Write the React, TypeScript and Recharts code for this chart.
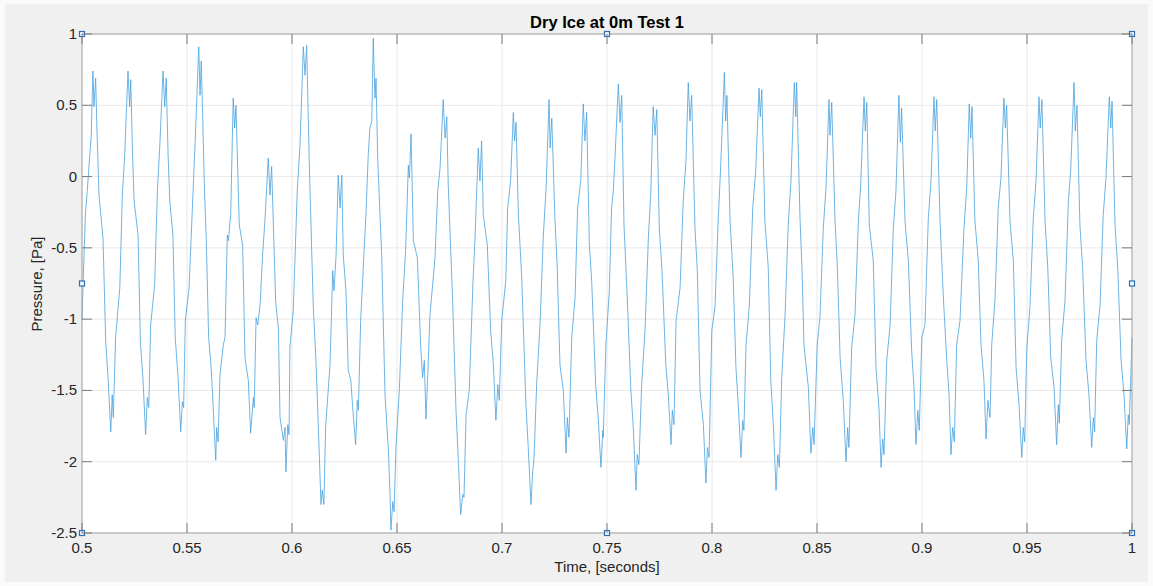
import {
  LineChart,
  Line,
  XAxis,
  YAxis,
  CartesianGrid,
  ReferenceDot,
} from "recharts";

const colors = {
  page: "#fafafa",
  frame: "#f0f0f0",
  plot: "#ffffff",
  grid: "#e8e8e8",
  axis: "#a3a3a3",
  tick: "#7a7a7a",
  text: "#262626",
  trace: "#47a1de",
  handle: "#2c6fb3",
};

const font = "'Liberation Sans', Arial, Helvetica, sans-serif";

const title = "Dry Ice at 0m Test 1";
const xLabel = "Time, [seconds]";
const yLabel = "Pressure, [Pa]";

const timeTicks = [0.5, 0.55, 0.6, 0.65, 0.7, 0.75, 0.8, 0.85, 0.9, 0.95, 1];
const pressureTicks = [-2.5, -2, -1.5, -1, -0.5, 0, 0.5, 1];

// selection handles around the axes box
const handleTimes = [0.5, 0.75, 1];
const handlePressures = [1, -0.75, -2.5];

// [time (s), pressure (Pa)]
const trace: [number, number][] = [
  [0.5, -1.01], [0.5005, -0.76], [0.5016, -0.27], [0.5025, -0.1], [0.5037, 0.15], [0.5044, 0.29],
  [0.5052, 0.74], [0.5057, 0.49], [0.5065, 0.69], [0.5071, 0.34], [0.5081, -0.13], [0.51, -0.43],
  [0.5113, -1.16], [0.5124, -1.41], [0.5137, -1.79], [0.5144, -1.53], [0.5149, -1.69],

  [0.516, -1.13], [0.518, -0.78], [0.5192, -0.13], [0.5203, 0.14], [0.5219, 0.74], [0.5227, 0.49],
  [0.5232, 0.68], [0.524, 0.2], [0.5248, -0.17], [0.5267, -0.41], [0.5278, -1.16], [0.529, -1.41],
  [0.5303, -1.81], [0.5311, -1.55], [0.5318, -1.62],

  [0.5327, -1.04], [0.5346, -0.76], [0.5359, -0.1], [0.537, 0.2], [0.5386, 0.74], [0.5394, 0.49],
  [0.5401, 0.69], [0.541, 0.15], [0.5418, -0.17], [0.5433, -0.41], [0.5444, -1.13], [0.5457, -1.4],
  [0.547, -1.79], [0.5478, -1.58], [0.5484, -1.62],

  [0.5492, -1.01], [0.551, -0.78], [0.5529, -0.1], [0.554, 0.29], [0.5556, 0.91], [0.5562, 0.57],
  [0.5568, 0.81], [0.5576, 0.34], [0.5584, -0.13], [0.5592, -0.45], [0.5603, -1.13], [0.5613, -1.3],
  [0.5622, -1.53], [0.5629, -1.76], [0.5637, -1.99], [0.5641, -1.76], [0.5648, -1.86],

  [0.5657, -1.39], [0.5673, -1.18], [0.5681, -1.13], [0.5692, -0.41], [0.5697, -0.45], [0.5708, -0.27],
  [0.572, 0.55], [0.5727, 0.34], [0.5733, 0.5], [0.5749, -0.34], [0.5765, -0.48], [0.5776, -1.27],
  [0.5792, -1.43], [0.5803, -1.8], [0.5816, -1.55], [0.582, -1.62],

  [0.5829, -0.99], [0.5837, -1.04], [0.5848, -0.9], [0.586, -0.55], [0.5871, -0.31], [0.5887, 0.13],
  [0.5895, -0.13], [0.5903, 0.07], [0.5922, -0.87], [0.5935, -1.06], [0.5943, -1.69], [0.5959, -1.85],
  [0.5967, -1.76], [0.5971, -2.07], [0.598, -1.74], [0.5986, -1.81],

  [0.599, -1.2], [0.6006, -0.94], [0.6025, -0.1], [0.6038, 0.22], [0.6054, 0.91], [0.6062, 0.71],
  [0.607, 0.92], [0.6082, 0.11], [0.6101, -0.9], [0.6114, -1.29], [0.6125, -1.74], [0.6138, -2.3],
  [0.6144, -2.2], [0.6152, -2.3],

  [0.616, -1.76], [0.6181, -1.32], [0.6194, -0.66], [0.62, -0.8], [0.621, -0.55], [0.622, 0.01],
  [0.6229, -0.22], [0.6237, 0.01], [0.6244, -0.55], [0.6257, -0.8], [0.6268, -1.36], [0.628, -1.43],
  [0.6289, -1.62], [0.6303, -1.88], [0.6311, -1.57], [0.6316, -1.64],

  [0.6327, -1.01], [0.6344, -0.5], [0.6352, -0.27], [0.6363, 0.15], [0.6371, 0.34], [0.638, 0.39],
  [0.6387, 0.97], [0.6395, 0.55], [0.64, 0.69], [0.6408, 0.13], [0.6427, -0.55], [0.6443, -1.53],
  [0.6459, -1.92], [0.6467, -2.23], [0.6471, -2.48], [0.648, -2.28], [0.6486, -2.35],

  [0.6495, -1.9], [0.6511, -1.5], [0.6527, -0.87], [0.6541, -0.52], [0.6554, 0.08], [0.6559, -0.01],
  [0.6567, 0.3], [0.6578, -0.45], [0.6597, -0.57], [0.6613, -1.2], [0.6622, -1.41], [0.663, -1.29],
  [0.6638, -1.7], [0.6646, -1.41],

  [0.6657, -0.97], [0.6681, -0.57], [0.6694, -0.1], [0.6705, 0.06], [0.672, 0.54], [0.6729, 0.27],
  [0.6737, 0.42], [0.6744, -0.06], [0.6765, -0.87], [0.6781, -1.64], [0.6792, -1.99], [0.6803, -2.37],
  [0.6813, -2.23], [0.6819, -2.25],

  [0.6829, -1.67], [0.6844, -1.5], [0.6862, -0.73], [0.6871, -0.45], [0.6887, 0.2], [0.6895, -0.03],
  [0.6903, 0.25], [0.6911, -0.27], [0.693, -0.48], [0.6946, -1.08], [0.6959, -1.32], [0.6971, -1.71],
  [0.698, -1.46], [0.6987, -1.57],

  [0.6999, -1.01], [0.7018, -0.73], [0.7027, -0.22], [0.7041, -0.03], [0.7054, 0.45], [0.706, 0.25],
  [0.7067, 0.38], [0.7078, -0.27], [0.7094, -0.71], [0.7114, -1.6], [0.7125, -1.9], [0.7138, -2.3],
  [0.7146, -2.07], [0.7152, -1.99],

  [0.7165, -1.46], [0.7181, -1.04], [0.7197, -0.41], [0.721, -0.08], [0.7224, 0.54], [0.7229, 0.2],
  [0.7237, 0.41], [0.7252, -0.29], [0.7263, -0.64], [0.7276, -1.32], [0.7292, -1.5], [0.7305, -1.94],
  [0.7311, -1.69], [0.7319, -1.83],

  [0.7332, -1.13], [0.7348, -0.85], [0.736, -0.22], [0.7375, -0.03], [0.7387, 0.51], [0.7395, 0.25],
  [0.7403, 0.45], [0.7416, -0.48], [0.7427, -0.73], [0.7446, -1.46], [0.7459, -1.71], [0.7471, -2.04],
  [0.748, -1.78], [0.7482, -1.83],

  [0.7495, -1.18], [0.7511, -0.8], [0.7522, -0.22], [0.753, -0.1], [0.7538, 0.13], [0.7554, 0.65],
  [0.7562, 0.38], [0.757, 0.57], [0.7581, -0.34], [0.7597, -0.87], [0.7613, -1.48], [0.7625, -1.76],
  [0.7638, -2.2], [0.7644, -1.95], [0.7652, -2.02],

  [0.7665, -1.46], [0.7681, -1.08], [0.7697, -0.43], [0.7708, -0.13], [0.772, 0.49], [0.7729, 0.29],
  [0.7737, 0.47], [0.7749, -0.36], [0.7762, -0.66], [0.778, -1.32], [0.7792, -1.53], [0.7805, -1.88],
  [0.7811, -1.64], [0.7819, -1.74],

  [0.7829, -1.01], [0.7848, -0.78], [0.7863, -0.17], [0.7876, 0.11], [0.7887, 0.66], [0.7895, 0.39],
  [0.7903, 0.57], [0.7919, -0.36], [0.793, -0.66], [0.7943, -1.5], [0.7959, -1.74], [0.7971, -2.15],
  [0.7978, -1.9], [0.7986, -1.97],

  [0.7999, -1.08], [0.8014, -0.92], [0.803, -0.29], [0.8041, 0.06], [0.8059, 0.73], [0.8065, 0.39],
  [0.8071, 0.57], [0.8086, -0.31], [0.8101, -0.71], [0.8114, -1.34], [0.8125, -1.6], [0.8138, -1.97],
  [0.8146, -1.71], [0.8152, -1.78],

  [0.8162, -1.18], [0.8178, -0.9], [0.8194, -0.22], [0.8208, 0.04], [0.8224, 0.62], [0.823, 0.42],
  [0.8237, 0.61], [0.8252, -0.31], [0.8268, -0.64], [0.828, -1.43], [0.8292, -1.74], [0.8305, -2.2],
  [0.8313, -1.95], [0.8321, -2.04],

  [0.8332, -1.41], [0.8348, -0.97], [0.8363, -0.34], [0.8376, -0.03], [0.8392, 0.66], [0.8399, 0.42],
  [0.8403, 0.66], [0.8419, -0.29], [0.8429, -0.66], [0.8438, -1.18], [0.8459, -1.48], [0.8471, -1.94],
  [0.848, -1.76], [0.8486, -1.88],

  [0.8501, -1.18], [0.8514, -0.99], [0.853, -0.36], [0.8543, -0.08], [0.8557, 0.54], [0.8562, 0.29],
  [0.857, 0.52], [0.8586, -0.31], [0.8597, -0.64], [0.861, -1.27], [0.8625, -1.57], [0.8638, -2.0],
  [0.8646, -1.76], [0.8652, -1.9],

  [0.8665, -1.2], [0.8681, -0.97], [0.8697, -0.31], [0.8708, -0.06], [0.8724, 0.56], [0.873, 0.32],
  [0.8737, 0.52], [0.8749, -0.34], [0.8768, -0.59], [0.8781, -1.34], [0.8795, -1.62], [0.8805, -2.04],
  [0.8813, -1.84], [0.8819, -1.95],

  [0.8832, -1.29], [0.8848, -1.04], [0.8863, -0.38], [0.8876, -0.1], [0.889, 0.57], [0.8897, 0.24],
  [0.8903, 0.48], [0.8919, -0.31], [0.8935, -0.59], [0.8951, -1.23], [0.8962, -1.48], [0.8971, -1.88],
  [0.898, -1.64], [0.8987, -1.78],

  [0.8999, -1.13], [0.9014, -1.04], [0.903, -0.29], [0.9043, -0.03], [0.9057, 0.56], [0.9063, 0.32],
  [0.907, 0.54], [0.9086, -0.31], [0.9101, -0.83], [0.9118, -1.29], [0.9129, -1.53], [0.9138, -1.95],
  [0.9146, -1.76], [0.9154, -1.86],

  [0.9165, -1.18], [0.9181, -1.01], [0.92, -0.36], [0.9213, -0.08], [0.9225, 0.51], [0.9232, 0.27],
  [0.9238, 0.49], [0.9252, -0.31], [0.9268, -0.59], [0.9281, -1.18], [0.9295, -1.43], [0.9305, -1.84],
  [0.9314, -1.57], [0.9324, -1.69],

  [0.9332, -1.18], [0.9348, -0.85], [0.9363, -0.22], [0.9376, -0.01], [0.939, 0.55], [0.9397, 0.34],
  [0.9403, 0.5], [0.9419, -0.31], [0.9435, -0.59], [0.9448, -1.34], [0.9462, -1.6], [0.9475, -1.97],
  [0.9482, -1.76], [0.9489, -1.86],

  [0.9499, -1.2], [0.9514, -0.92], [0.953, -0.29], [0.9543, -0.03], [0.9557, 0.56], [0.9563, 0.34],
  [0.9571, 0.54], [0.9586, -0.31], [0.9599, -0.64], [0.9613, -1.27], [0.9629, -1.48], [0.9641, -1.88],
  [0.9649, -1.6], [0.9654, -1.73],

  [0.9665, -1.15], [0.9681, -0.87], [0.9697, -0.17], [0.9708, 0.04], [0.9724, 0.66], [0.973, 0.32],
  [0.9738, 0.5], [0.9752, -0.34], [0.9765, -0.64], [0.9781, -1.29], [0.9795, -1.53], [0.9808, -1.9],
  [0.9816, -1.69], [0.9822, -1.79],

  [0.9832, -1.15], [0.9848, -0.9], [0.9863, -0.27], [0.9876, -0.01], [0.9892, 0.56], [0.9899, 0.34],
  [0.9905, 0.53], [0.9919, -0.34], [0.9932, -0.64], [0.9948, -1.29], [0.9962, -1.53], [0.9975, -1.91],
  [0.9982, -1.67], [0.9987, -1.74], [1.0, -1.13],
];

const data = trace.map(([t, p]) => ({ t, p }));

// axes box, set by the chart margins and axis sizes below
const box = { left: 82, top: 34, right: 1132, bottom: 533 };
const tickLen = 10;

type TickProps = { x?: number; y?: number; payload?: { value: number } };

// bottom tick: inward marks on bottom and top edge plus the label
function TimeTick({ x = 0, payload }: TickProps) {
  return (
    <g>
      <line x1={x} x2={x} y1={box.bottom} y2={box.bottom - tickLen} stroke={colors.tick} />
      <line x1={x} x2={x} y1={box.top} y2={box.top + tickLen} stroke={colors.tick} />
      <text
        x={x}
        y={553}
        textAnchor="middle"
        fill={colors.text}
        fontSize={15}
        fontFamily={font}
      >
        {String(payload?.value)}
      </text>
    </g>
  );
}

// left tick: inward marks on left and right edge plus the label
function PressureTick({ y = 0, payload }: TickProps) {
  return (
    <g>
      <line x1={box.left} x2={box.left + tickLen} y1={y} y2={y} stroke={colors.tick} />
      <line x1={box.right} x2={box.right - tickLen} y1={y} y2={y} stroke={colors.tick} />
      <text
        x={77}
        y={y + 5}
        textAnchor="end"
        fill={colors.text}
        fontSize={15}
        fontFamily={font}
      >
        {String(payload?.value)}
      </text>
    </g>
  );
}

function Handle(props: { cx?: number; cy?: number }) {
  const { cx = 0, cy = 0 } = props;
  return (
    <rect
      x={cx - 2.5}
      y={cy - 2.5}
      width={5}
      height={5}
      fill="#f4f8fc"
      stroke={colors.handle}
      strokeWidth={1.2}
    />
  );
}

export default function App() {
  const handles: { t: number; p: number }[] = [];
  handleTimes.forEach((t) =>
    handlePressures.forEach((p) => {
      if (!(t === 0.75 && p === -0.75)) handles.push({ t, p });
    })
  );

  return (
    <div
      style={{
        position: "absolute",
        left: 0,
        top: 0,
        width: 1153,
        height: 586,
        background: colors.page,
      }}
    >
      <div
        style={{
          position: "absolute",
          left: 5,
          top: 4,
          right: 5,
          bottom: 4,
          background: colors.frame,
        }}
      />
      <div style={{ position: "absolute", left: 0, top: 0 }}>
        <LineChart
          width={1153}
          height={586}
          data={data}
          margin={{ top: 4, right: 1, bottom: 13, left: 0 }}
        >
          <CartesianGrid stroke={colors.grid} fill={colors.plot} />
          <XAxis
            dataKey="t"
            type="number"
            domain={[0.5, 1]}
            ticks={timeTicks}
            interval={0}
            height={40}
            stroke={colors.axis}
            tickLine={false}
            tick={<TimeTick />}
          />
          <XAxis
            xAxisId="top"
            orientation="top"
            dataKey="t"
            type="number"
            domain={[0.5, 1]}
            ticks={timeTicks}
            height={30}
            stroke={colors.axis}
            tickLine={false}
            tick={false}
          />
          <YAxis
            type="number"
            domain={[-2.5, 1]}
            ticks={pressureTicks}
            interval={0}
            width={82}
            stroke={colors.axis}
            tickLine={false}
            tick={<PressureTick />}
          />
          <YAxis
            yAxisId="right"
            orientation="right"
            type="number"
            domain={[-2.5, 1]}
            ticks={pressureTicks}
            width={20}
            stroke={colors.axis}
            tickLine={false}
            tick={false}
          />
          <Line
            type="linear"
            dataKey="p"
            stroke={colors.trace}
            strokeWidth={0.8}
            dot={false}
            isAnimationActive={false}
          />
          {handles.map((h) => (
            <ReferenceDot
              key={`${h.t}_${h.p}`}
              x={h.t}
              y={h.p}
              ifOverflow="visible"
              shape={<Handle />}
            />
          ))}
        </LineChart>
      </div>
      <svg
        width={1153}
        height={586}
        style={{ position: "absolute", left: 0, top: 0, pointerEvents: "none" }}
      >
        <text
          x={607}
          y={28}
          textAnchor="middle"
          fontFamily={font}
          fontWeight="bold"
          fontSize={16.5}
          fill="#000"
        >
          {title}
        </text>
        <text
          x={607}
          y={572}
          textAnchor="middle"
          fontFamily={font}
          fontSize={15}
          fill={colors.text}
        >
          {xLabel}
        </text>
        <text
          x={42}
          y={284}
          transform="rotate(-90 42 284)"
          textAnchor="middle"
          fontFamily={font}
          fontSize={15}
          fill={colors.text}
        >
          {yLabel}
        </text>
      </svg>
    </div>
  );
}
